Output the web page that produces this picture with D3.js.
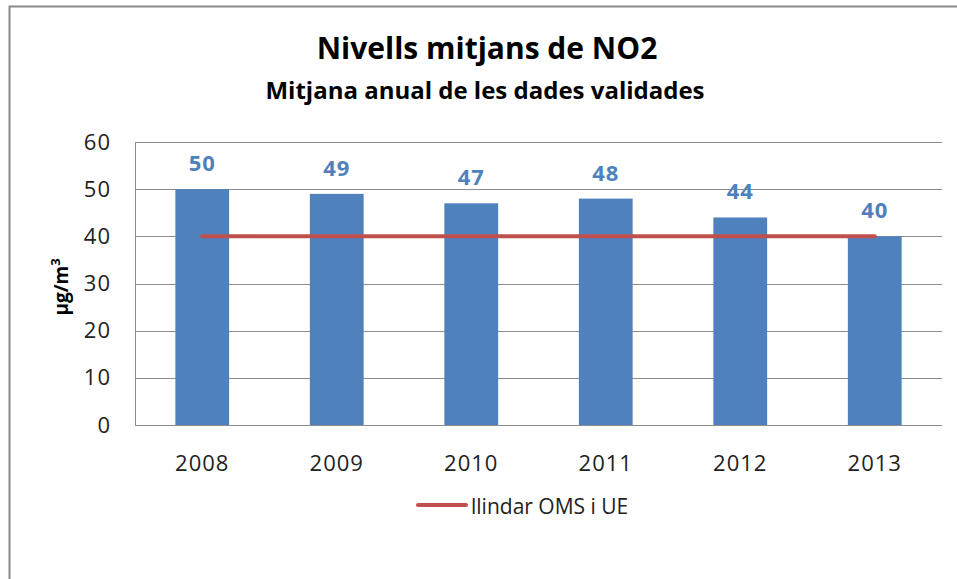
<!DOCTYPE html>
<html>
<head>
<meta charset="utf-8">
<script src="https://cdn.jsdelivr.net/npm/d3@7"></script>
<style>
  body { margin: 0; background: #fff; }
  text { font-family: "Open Sans", "Noto Sans", sans-serif; }
</style>
</head>
<body>
<div id="chart"></div>
<script>
// data
var years = ["2008", "2009", "2010", "2011", "2012", "2013"];
var mitjanes = [50, 49, 47, 48, 44, 40];
var llindar = [40, 40, 40, 40, 40, 40];
var yTicks = [0, 10, 20, 30, 40, 50, 60];

var W = 957, H = 579;
var margin = {top: 142, right: 15, bottom: 154, left: 135},
    width = W - margin.left - margin.right,
    height = H - margin.top - margin.bottom;

var svg = d3.select("#chart")
    .append("svg")
    .attr("width", W)
    .attr("height", H);

// chart frame (only top and left edges are in the picture)
svg.append("path")
    .attr("d", "M9.5," + H + "V6.5H" + W)
    .attr("fill", "none")
    .attr("stroke", "#898989")
    .attr("stroke-width", 2);

var g = svg.append("g")
    .attr("transform", "translate(" + margin.left + "," + margin.top + ")");

var x = d3.scaleBand().domain(years).range([0, width]).paddingInner(0.6).paddingOuter(0.3);
var xc = d3.scalePoint().domain(years).range([0, width]).padding(0.5);
var y = d3.scaleLinear().domain([0, 60]).range([height, 0]);

// titles
svg.append("text")
    .attr("x", 487)
    .attr("y", 59)
    .attr("text-anchor", "middle")
    .style("font-size", "30px")
    .style("font-weight", "bold")
    .text("Nivells mitjans de NO2");

svg.append("text")
    .attr("x", 485)
    .attr("y", 99)
    .attr("text-anchor", "middle")
    .style("font-size", "24px")
    .style("font-weight", "bold")
    .text("Mitjana anual de les dades validades");

// gridlines
g.append("g")
    .selectAll("line")
    .data(yTicks)
    .enter().append("line")
    .attr("x1", 0)
    .attr("x2", width)
    .attr("y1", d => Math.round(y(d)) + 0.5)
    .attr("y2", d => Math.round(y(d)) + 0.5)
    .attr("stroke", "#8c8c8c")
    .attr("stroke-width", 1);

// y axis
var yAxis = g.append("g")
    .call(d3.axisLeft(y).tickValues(yTicks).tickSize(0).tickPadding(24));
yAxis.select(".domain").attr("stroke", "#8c8c8c");
yAxis.selectAll("text")
    .style("font-size", "22px")
    .style("font-family", "'Open Sans', sans-serif")
    .style("letter-spacing", "1px")
    .attr("fill", "#222");

// axis title
svg.append("text")
    .attr("transform", "translate(68,287) rotate(-90)")
    .attr("text-anchor", "middle")
    .style("font-size", "19px")
    .style("font-weight", "bold")
    .html("µg/m<tspan dy='-8' font-size='13px'>3</tspan>");

// bars
g.selectAll("rect.bar")
    .data(mitjanes)
    .enter().append("rect")
    .attr("class", "bar")
    .attr("x", (d, i) => x(years[i]))
    .attr("y", d => y(d))
    .attr("width", x.bandwidth())
    .attr("height", d => height - y(d))
    .attr("fill", "#4f81bd");

// value labels
g.selectAll("text.lbl")
    .data(mitjanes)
    .enter().append("text")
    .attr("class", "lbl")
    .attr("x", (d, i) => x(years[i]) + x.bandwidth() / 2)
    .attr("y", d => y(d) - 18)
    .attr("text-anchor", "middle")
    .style("font-size", "22px")
    .style("font-weight", "bold")
    .style("letter-spacing", "1px")
    .attr("fill", "#4f81bd")
    .text(d => d);

// threshold line
var line = d3.line()
    .x((d, i) => xc(years[i]))
    .y(d => y(d));

g.append("path")
    .datum(llindar)
    .attr("d", line)
    .attr("fill", "none")
    .attr("stroke", "#c0504d")
    .attr("stroke-width", 4)
    .attr("stroke-linecap", "round");

// x axis labels
g.selectAll("text.xl")
    .data(years)
    .enter().append("text")
    .attr("class", "xl")
    .attr("x", d => xc(d))
    .attr("y", height + 46)
    .attr("text-anchor", "middle")
    .style("font-size", "22px")
    .style("letter-spacing", "1px")
    .attr("fill", "#222")
    .text(d => d);

// legend
var leg = svg.append("g").attr("transform", "translate(418,505)");
leg.append("line")
    .attr("x1", 0).attr("x2", 48)
    .attr("y1", 0).attr("y2", 0)
    .attr("stroke", "#c0504d")
    .attr("stroke-width", 4)
    .attr("stroke-linecap", "round");
leg.append("text")
    .attr("x", 53)
    .attr("y", 9)
    .style("font-size", "21px")
    .attr("fill", "#222")
    .text("llindar OMS i UE");
</script>
</body>
</html>
